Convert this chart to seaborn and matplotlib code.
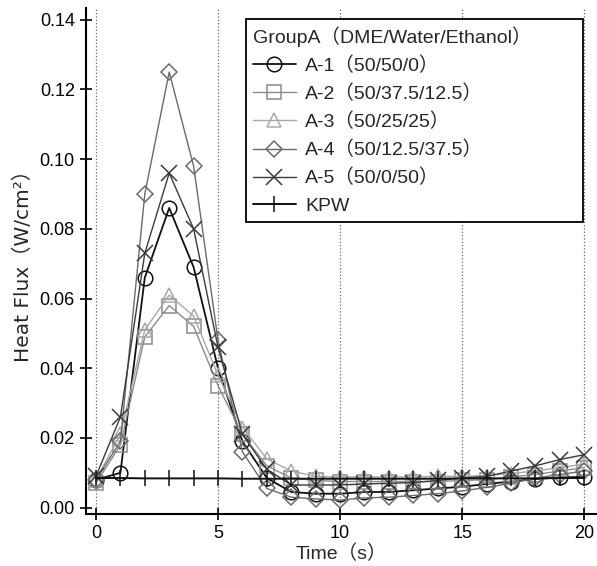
import matplotlib
matplotlib.use("Agg")
import matplotlib.pyplot as plt
import seaborn as sns
import numpy as np
from matplotlib.ticker import FormatStrFormatter

sns.set_style("ticks")
plt.rcParams['font.family'] = ['Liberation Sans', 'Noto Sans CJK JP', 'DejaVu Sans']

time = list(range(21))
a1 = [0.008, 0.010, 0.066, 0.086, 0.069, 0.040, 0.019, 0.0085, 0.0045, 0.004, 0.004,
      0.0045, 0.0045, 0.005, 0.0055, 0.006, 0.0068, 0.0075, 0.0082, 0.0087, 0.0088]
a2 = [0.007, 0.018, 0.049, 0.058, 0.052, 0.035, 0.021, 0.012, 0.0085, 0.0078, 0.0075,
      0.0075, 0.0075, 0.0075, 0.0075, 0.0078, 0.008, 0.0088, 0.0095, 0.0105, 0.0115]
a3 = [0.008, 0.021, 0.051, 0.061, 0.055, 0.038, 0.023, 0.014, 0.0105, 0.009, 0.0088,
      0.0088, 0.0088, 0.0088, 0.009, 0.009, 0.0092, 0.0098, 0.0105, 0.0115, 0.0125]
a4 = [0.008, 0.019, 0.090, 0.125, 0.098, 0.048, 0.016, 0.0055, 0.003, 0.0025, 0.0022,
      0.0028, 0.003, 0.0035, 0.004, 0.0048, 0.0058, 0.007, 0.0085, 0.0095, 0.0105]
a5 = [0.009, 0.026, 0.073, 0.096, 0.080, 0.046, 0.021, 0.011, 0.0065, 0.0065, 0.0065,
      0.0068, 0.007, 0.0072, 0.0078, 0.0085, 0.009, 0.0105, 0.012, 0.0138, 0.0152]
kpw = [0.0085, 0.0085, 0.0084, 0.0084, 0.0084, 0.0084, 0.0083, 0.0083, 0.0083, 0.0083, 0.0083,
       0.0083, 0.0083, 0.0083, 0.0083, 0.0084, 0.0084, 0.0084, 0.0084, 0.0085, 0.0085]

labels = ["A-1（50/50/0）", "A-2（50/37.5/12.5）", "A-3（50/25/25）",
          "A-4（50/12.5/37.5）", "A-5（50/0/50）", "KPW"]
series = [a1, a2, a3, a4, a5, kpw]
markers = ["o", "s", "^", "D", "x", "|"]
colors = ["#111111", "#8a8a8a", "#a8a8a8", "#6a6a6a", "#3a3a3a", "#111111"]
msizes = [10.5, 10, 10, 8.5, 11, 12]
lwidths = [1.3, 1.0, 1.0, 1.0, 1.0, 1.4]

fig = plt.figure(figsize=(5.97, 5.66), dpi=100)
ax = fig.add_axes([0.144, 0.092, 0.855, 0.894])

for x in [0, 5, 10, 15, 20]:
    ax.axvline(x, color="#666666", linestyle=":", linewidth=0.9, zorder=0)

for vals, lab, m, c, ms, lw in zip(series, labels, markers, colors, msizes, lwidths):
    sns.lineplot(x=time, y=vals, ax=ax, marker=m, color=c, label=lab,
                 markersize=ms, mfc="none", mec=c, mew=1.1, linewidth=lw)

ax.set_xlim(-0.41, 20.5)
ax.set_ylim(-0.0018, 0.1434)
ax.set_xticks([0, 5, 10, 15, 20])
ax.set_yticks(np.arange(0, 0.141, 0.02))
ax.yaxis.set_major_formatter(FormatStrFormatter("%.2f"))
ax.tick_params(direction="inout", length=9, width=1.2, labelsize=13, colors="black")
for s in ["top", "right"]:
    ax.spines[s].set_visible(False)
for s in ["left", "bottom"]:
    ax.spines[s].set_linewidth(1.5)
    ax.spines[s].set_color("black")

ax.set_xlabel("Time（s）", fontsize=14, labelpad=2)
ax.set_ylabel("Heat Flux（W/cm²）", fontsize=14.5, labelpad=5,
              family=['DejaVu Sans', 'Noto Sans CJK JP'])

leg = ax.legend(title="GroupA（DME/Water/Ethanol）", loc="upper left",
                bbox_to_anchor=(0.3135, 0.5, 0.6605, 0.478), mode="expand",
                borderaxespad=0, fontsize=14, title_fontsize=14,
                frameon=True, fancybox=False, framealpha=1, edgecolor="black",
                handlelength=2.2, handletextpad=0.5, labelspacing=0.5,
                borderpad=0.35, alignment="left")
leg.get_frame().set_linewidth(1.3)

fig.savefig("out.png", dpi=100)
